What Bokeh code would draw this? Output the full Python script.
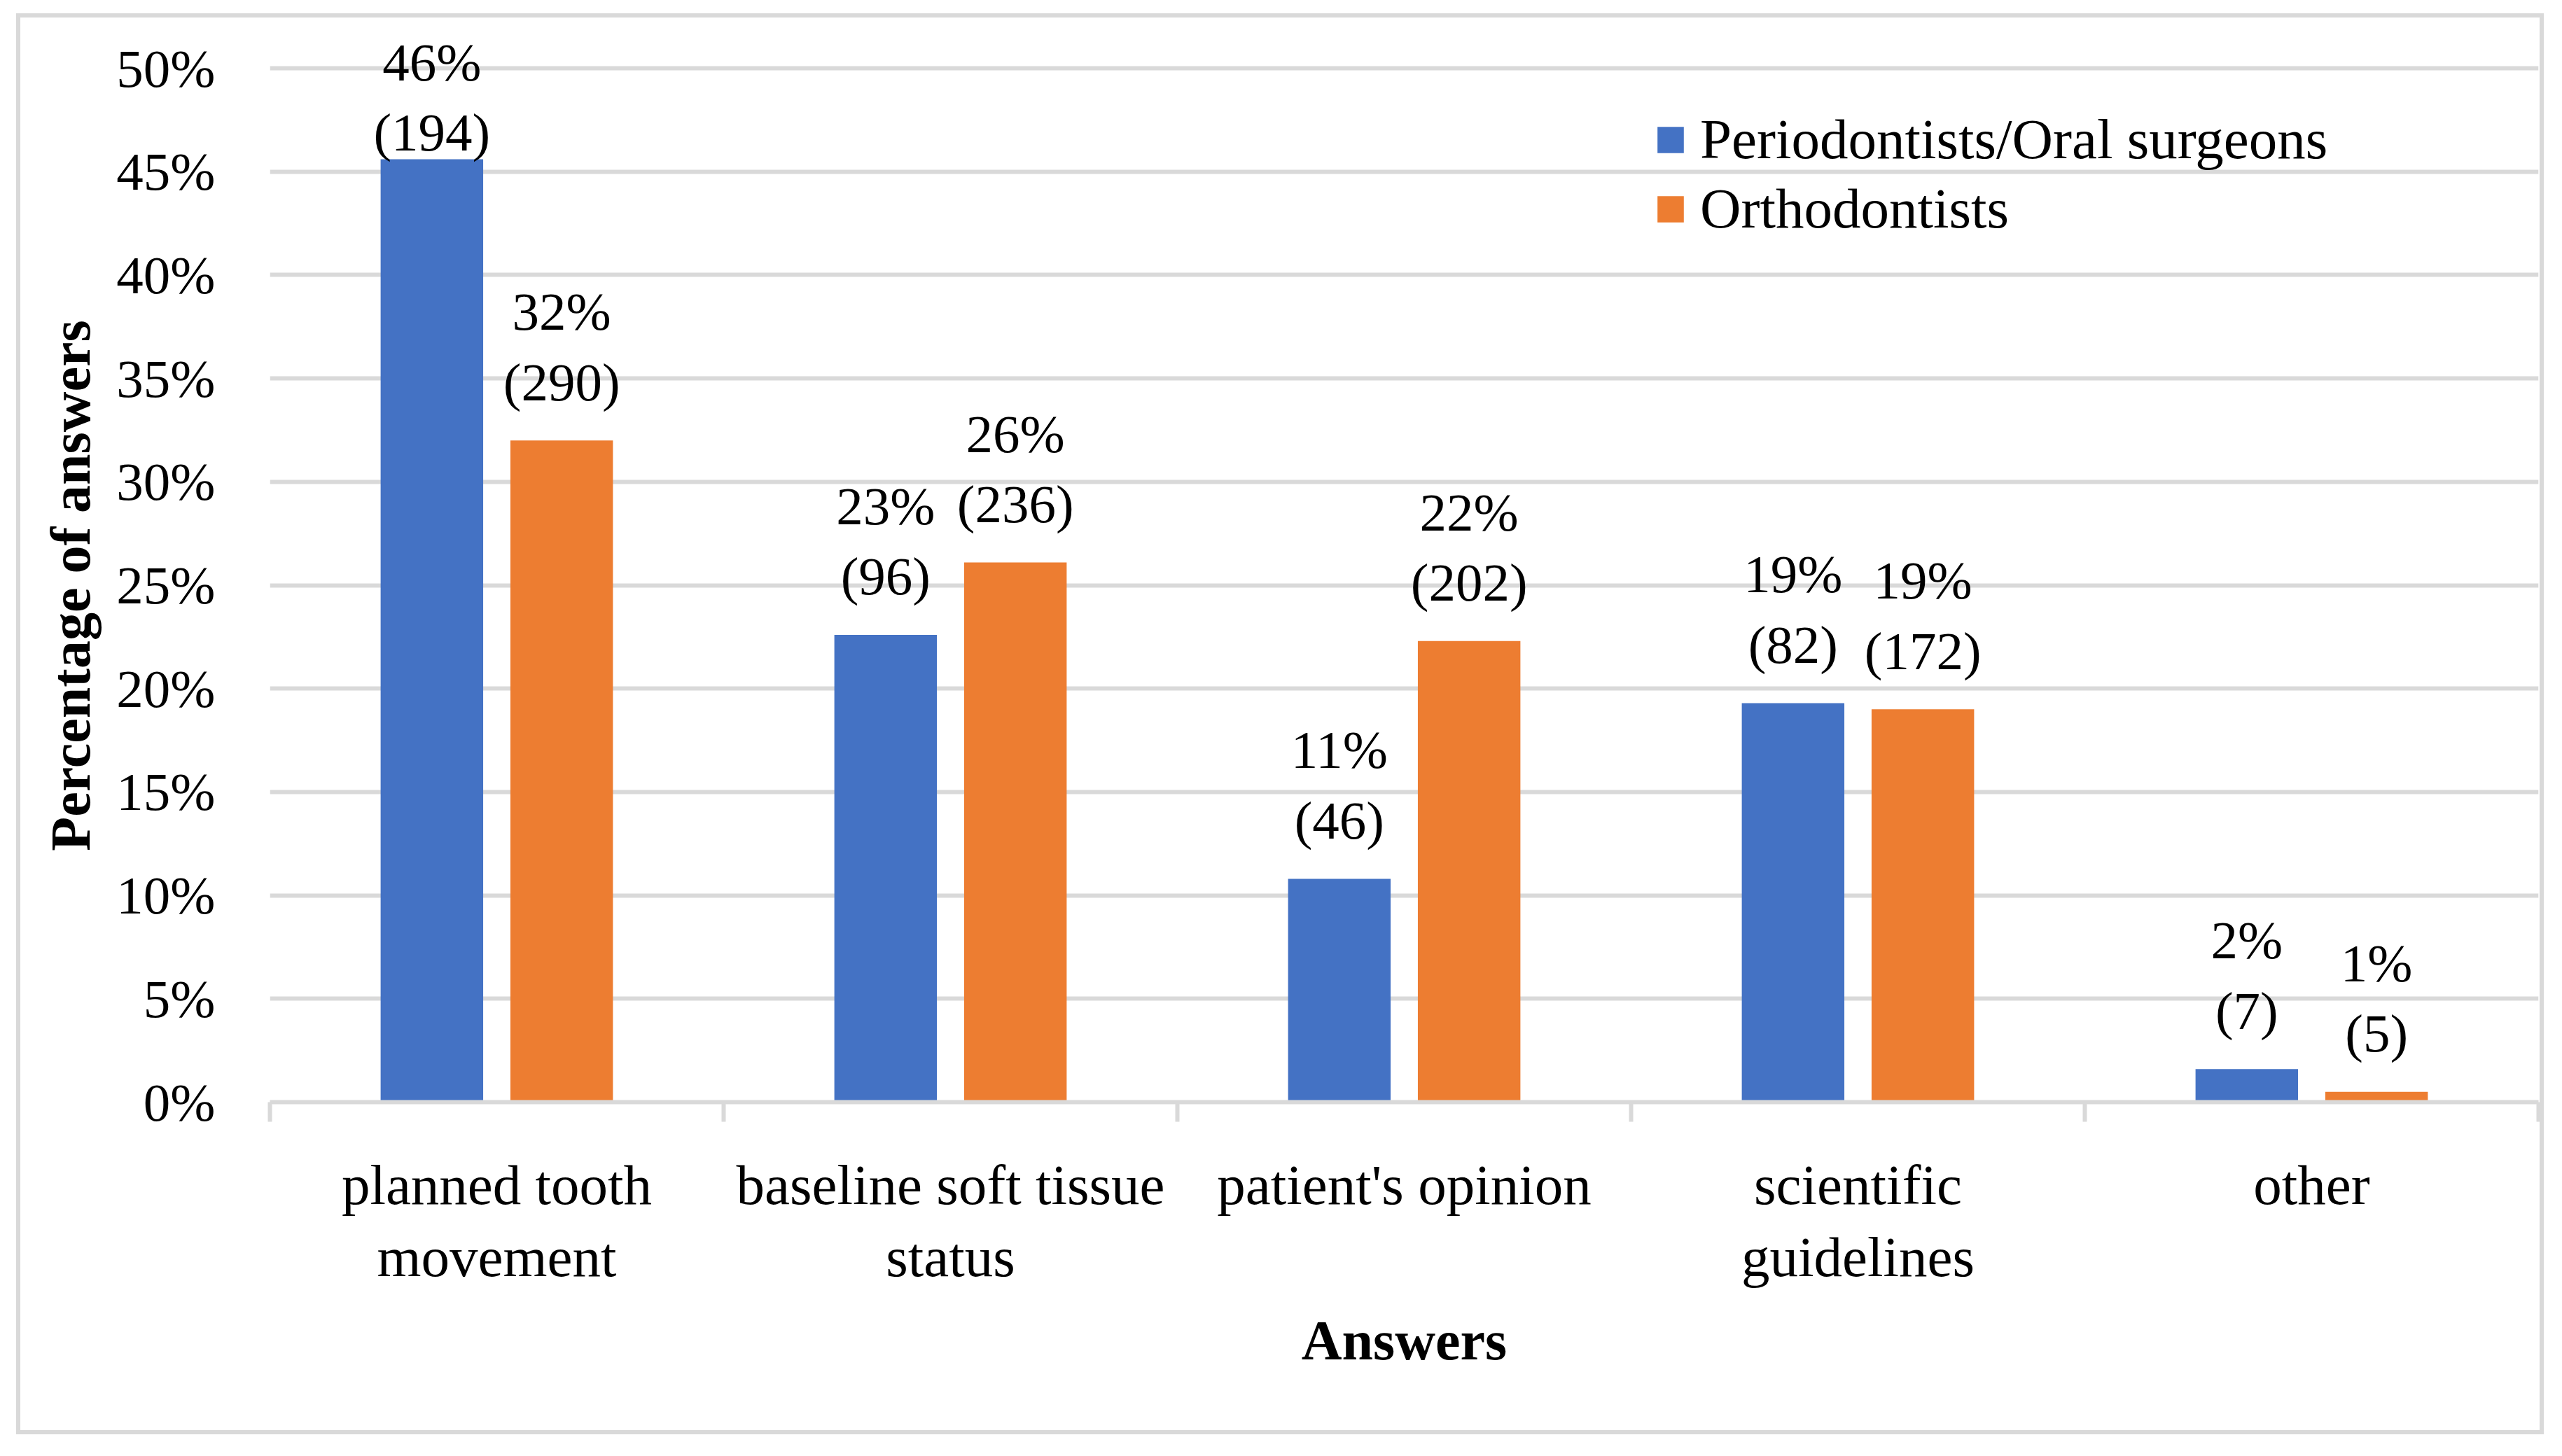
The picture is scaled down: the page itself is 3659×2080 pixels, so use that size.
import numpy as np
from bokeh.plotting import figure
from bokeh.models import (ColumnDataSource, FixedTicker, LabelSet, Legend,
                          LegendItem, Range1d)
from bokeh.core.properties import value
from bokeh.embed import file_html
from bokeh.resources import INLINE

# ---------------- data ----------------
categories = ["planned tooth\nmovement", "baseline soft tissue\nstatus",
              "patient's opinion", "scientific\nguidelines", "other"]
series_names = ["Periodontists/Oral surgeons", "Orthodontists"]
perio_pct = [0.456, 0.226, 0.108, 0.193, 0.016]
ortho_pct = [0.320, 0.261, 0.223, 0.190, 0.005]
perio_n = [194, 96, 46, 82, 7]
ortho_n = [290, 236, 202, 172, 5]
perio_pct_labels = ["46%", "23%", "11%", "19%", "2%"]
ortho_pct_labels = ["32%", "26%", "22%", "19%", "1%"]
y_ticks = [0.0, 0.05, 0.10, 0.15, 0.20, 0.25, 0.30, 0.35, 0.40, 0.45, 0.50]
y_tick_labels = ["0%", "5%", "10%", "15%", "20%", "25%", "30%", "35%", "40%", "45%", "50%"]
x_title = "Answers"
y_title = "Percentage of answers"

# ---------------- geometry / style ----------------
W, H = 3643, 2064
FL, FR, FT, FB = 385, 3625, 38, 1574
Y_END = 0.52
ppu = (FB - FT) / Y_END
n = len(categories)

BLUE = "#4472C4"
ORANGE = "#ED7D31"
GRID = "#D9D9D9"
FONT_NAME = "Liberation Serif"
FS_NUM = "77px"
FS_TXT = "81px"
FS_TITLE = "80px"

g = "linear-gradient(%s,%s)" % (GRID, GRID)
border_css = ", ".join([
    g + " 23px 19px / 6px 2030px no-repeat",
    g + " 3627px 19px / 6px 2030px no-repeat",
    g + " 23px 19px / 3610px 6px no-repeat",
    g + " 23px 2043px / 3610px 6px no-repeat",
    "white",
])

p = figure(width=W, height=H, x_range=Range1d(0, n), y_range=Range1d(0, Y_END),
           output_backend="svg", toolbar_location=None, title=None,
           min_border_left=FL, min_border_right=W - FR,
           min_border_top=FT, min_border_bottom=H - FB)
p.styles = {"background": border_css}
p.outline_line_color = None
p.background_fill_color = None
p.border_fill_color = None
p.xgrid.visible = False

idx = np.arange(n)
dodge = 0.143
bw = 0.226
xb = idx + 0.5 - dodge
xo = idx + 0.5 + dodge

def label_offsets(vals):
    off1, off2 = [], []
    for v in vals:
        top_px = FB - v * ppu
        base1 = top_px - 158
        shift = max(0.0, 114 - base1)
        off1.append(158 - shift)
        off2.append(57.5 - shift)
    return off1, off2

b1, b2 = label_offsets(perio_pct)
o1, o2 = label_offsets(ortho_pct)

src_b = ColumnDataSource(dict(x=xb, top=perio_pct,
                              pct=perio_pct_labels,
                              cnt=["(%d)" % c for c in perio_n],
                              off1=b1, off2=b2))
src_o = ColumnDataSource(dict(x=xo, top=ortho_pct,
                              pct=ortho_pct_labels,
                              cnt=["(%d)" % c for c in ortho_n],
                              off1=o1, off2=o2))

rb = p.vbar(x="x", top="top", bottom=0, width=bw, source=src_b,
            fill_color=BLUE, line_color=None)
ro = p.vbar(x="x", top="top", bottom=0, width=bw, source=src_o,
            fill_color=ORANGE, line_color=None)

for src in (src_b, src_o):
    for col, off in (("pct", "off1"), ("cnt", "off2")):
        p.add_layout(LabelSet(x="x", y="top", text=col, y_offset=off, source=src,
                              text_align="center", text_baseline="alphabetic",
                              text_font=value(FONT_NAME), text_font_size=value(FS_NUM),
                              text_color="black"))

# y axis
p.yaxis.ticker = FixedTicker(ticks=y_ticks)
p.yaxis.major_label_overrides = {t: l for t, l in zip(y_ticks, y_tick_labels)}
p.yaxis.axis_line_color = None
p.yaxis.major_tick_line_color = None
p.yaxis.minor_tick_line_color = None
p.yaxis.major_tick_out = 0
p.yaxis.major_tick_in = 0
p.yaxis.major_label_standoff = 78
p.yaxis.major_label_text_font = FONT_NAME
p.yaxis.major_label_text_font_size = FS_NUM
p.yaxis.major_label_text_color = "black"
# trailing no-break spaces centre the title on the 0-50 % span rather than the whole frame
p.yaxis.axis_label = y_title + "\u00a0\u00a0\u00a0"
p.yaxis.axis_label_standoff = 18
p.yaxis.axis_label_text_font = FONT_NAME
p.yaxis.axis_label_text_font_size = FS_TITLE
p.yaxis.axis_label_text_font_style = "bold"
p.yaxis.axis_label_text_color = "black"

p.ygrid.ticker = FixedTicker(ticks=y_ticks)
p.ygrid.grid_line_color = GRID
p.ygrid.grid_line_width = 6

# x axis
p.xaxis.ticker = FixedTicker(ticks=list(idx + 0.5), minor_ticks=list(range(n + 1)))
p.xaxis.major_label_overrides = {float(i) + 0.5: c for i, c in enumerate(categories)}
p.xaxis.axis_line_color = GRID
p.xaxis.axis_line_width = 6
p.xaxis.major_tick_line_color = None
p.xaxis.major_tick_out = 0
p.xaxis.major_tick_in = 0
p.xaxis.minor_tick_out = 28
p.xaxis.minor_tick_in = 0
p.xaxis.minor_tick_line_color = GRID
p.xaxis.minor_tick_line_width = 6
p.xaxis.major_label_standoff = 45
p.xaxis.major_label_text_font = FONT_NAME
p.xaxis.major_label_text_font_size = FS_TXT
p.xaxis.major_label_text_color = "black"
p.xaxis.major_label_text_line_height = 1.15
p.xaxis.axis_label = x_title
p.xaxis.axis_label_standoff = 27
p.xaxis.axis_label_text_font = FONT_NAME
p.xaxis.axis_label_text_font_size = FS_TITLE
p.xaxis.axis_label_text_font_style = "bold"
p.xaxis.axis_label_text_color = "black"

# legend
legend = Legend(items=[LegendItem(label=series_names[0], renderers=[rb]),
                       LegendItem(label=series_names[1], renderers=[ro])],
                location=(1977, 1226), orientation="vertical",
                glyph_width=47, glyph_height=47, label_standoff=19,
                padding=0, margin=0, spacing=0, label_height=99,
                border_line_color=None, background_fill_alpha=0,
                label_text_font=FONT_NAME, label_text_font_size=FS_TXT,
                label_text_color="black")
p.add_layout(legend)

open("out.html", "w").write(file_html(p, INLINE))
